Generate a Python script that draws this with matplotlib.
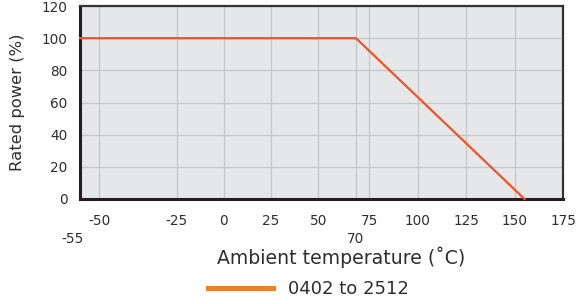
import numpy as np
import matplotlib
matplotlib.use("Agg")
import matplotlib.pyplot as plt
import matplotlib.transforms as mtransforms
from matplotlib.lines import Line2D
from matplotlib.ticker import FixedLocator

# Données de la courbe de déclassement
temperature = [-55, 70, 155]
puissance = [100, 100, 0]

xticks_main = [-50, -25, 0, 25, 50, 75, 100, 125, 150, 175]
xticks_low = [-55, 70]
yticks = [0, 20, 40, 60, 80, 100, 120]
serie_label = "0402 to 2512"

# échelle x non linéaire (comme sur la fiche technique)
knots_val = np.array([-55, -50, -25, 70, 75, 175])
knots_pos = np.array([0.0, 0.04, 0.2, 0.571, 0.599, 1.0])


def forward(x):
    x = np.asarray(x, dtype=float)
    return np.interp(x, knots_val, knots_pos, left=np.nan, right=np.nan)


def inverse(p):
    p = np.asarray(p, dtype=float)
    return np.interp(p, knots_pos, knots_val)


text_color = "#2e2e2e"
plt.rcParams["font.family"] = ["DejaVu Sans"]

fig = plt.figure(figsize=(5.77, 3.04), dpi=100)
ax = fig.add_axes([80 / 577, 1 - 199 / 304, 483.3 / 577, 193 / 304])
ax.set_facecolor("#E6E7E9")

ax.set_xscale("function", functions=(forward, inverse))
ax.set_xlim(-55, 175)
ax.set_ylim(0, 120)

ax.plot(temperature, puissance, color="#EF5327", lw=1.6, zorder=3, clip_on=False)

ax.xaxis.set_major_locator(FixedLocator(xticks_main))
ax.xaxis.set_minor_locator(FixedLocator(xticks_low))
ax.set_xticklabels([str(v) for v in xticks_main])
ax.set_xticklabels([str(v) for v in xticks_low], minor=True)
ax.set_yticks(yticks)

ax.tick_params(axis="x", which="major", length=0, pad=11, labelsize=9.8, colors=text_color)
ax.tick_params(axis="x", which="minor", length=0, pad=24, labelsize=9.8, colors=text_color)
ax.tick_params(axis="y", length=0, pad=9, labelsize=9.8, colors=text_color)

# décaler "-55" un peu à gauche
shift = mtransforms.ScaledTranslation(-7 / 100, 0, fig.dpi_scale_trans)
for t in ax.xaxis.get_minorticklabels():
    if t.get_text() == "-55":
        t.set_transform(t.get_transform() + shift)

ax.grid(True, which="both", axis="x", color="#C6C7C9", lw=0.9)
ax.grid(True, axis="y", color="#C6C7C9", lw=0.9)
ax.set_axisbelow(True)

for side in ["left", "bottom"]:
    ax.spines[side].set_linewidth(2.2)
    ax.spines[side].set_color("#231F20")
for side in ["top", "right"]:
    ax.spines[side].set_linewidth(1.6)
    ax.spines[side].set_color("#333333")

ax.set_xlabel("Ambient temperature (˚C)", fontsize=13.6, color=text_color, labelpad=0)
ax.xaxis.label.set_x(0.54)
ax.set_ylabel("Rated power (%)", fontsize=11.8, color=text_color, labelpad=12)

handle = Line2D([], [], color="#F07F2B", lw=3.6)
fig.legend([handle], [serie_label], loc="center", bbox_to_anchor=(308.5 / 577, 1 - 289 / 304),
           frameon=False, fontsize=13, handlelength=3.6, handletextpad=0.8,
           labelcolor=text_color, borderpad=0)

fig.savefig("out.png", dpi=100)
